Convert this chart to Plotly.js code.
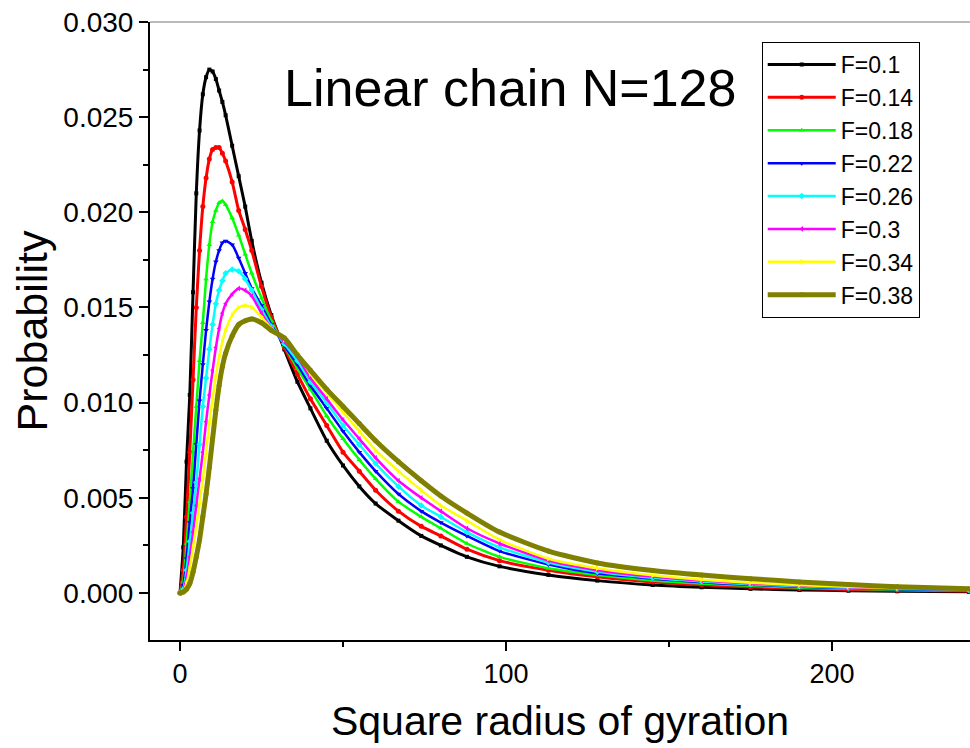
<!DOCTYPE html>
<html>
<head>
<meta charset="utf-8">
<script src="https://cdn.plot.ly/plotly-3.0.1.min.js"></script>
<style>html,body{margin:0;padding:0;background:#fff;}#chart{width:970px;height:748px;}</style>
</head>
<body>
<div id="chart"></div>
<script>
// Square radius of gyration (x values)
const rg2 = [0,1,2,3,4,5,6,7,8,9,10,11,12,13,14,16,18,20,22,25,28,32,36,40,45,50,55,60,67,74,80,88,98,113,128,145,160,175,190,205,220,242];

const pF010 = [0,0.0024,0.0069,0.0104,0.0158,0.0210,0.0243,0.0262,0.0271,0.0275,0.0274,0.0270,0.0264,0.0258,0.0251,0.0235,0.0219,0.0203,0.0185,0.0163,0.0146,0.0128,0.0111,0.0097,0.0080,0.0067,0.0056,0.0047,0.0038,0.0030,0.0025,0.0019,0.0014,0.00095,0.00065,0.00042,0.00030,0.00022,0.00016,0.00012,0.00009,0.00006];
const pF014 = [0,0.0012,0.0040,0.0074,0.0112,0.0150,0.0180,0.0203,0.0218,0.0228,0.0233,0.0234,0.0234,0.0231,0.0227,0.0216,0.0201,0.0191,0.0180,0.0161,0.0145,0.0129,0.0115,0.0102,0.0088,0.0074,0.0064,0.0054,0.0043,0.0035,0.0030,0.0023,0.0017,0.0012,0.00085,0.00058,0.00043,0.00032,0.00024,0.00018,0.00014,0.00010];
const pF018 = [0,0.0006,0.0026,0.0048,0.0074,0.0098,0.0122,0.0142,0.0165,0.0183,0.0195,0.0201,0.0205,0.0206,0.0204,0.0197,0.0188,0.0178,0.0168,0.0155,0.0143,0.0130,0.0118,0.0107,0.0093,0.0081,0.0070,0.0060,0.0048,0.0040,0.0034,0.0026,0.0019,0.0013,0.00095,0.00066,0.00050,0.00038,0.00029,0.00022,0.00017,0.00012];
const pF022 = [0,0.0004,0.0018,0.0037,0.0055,0.0078,0.0101,0.0120,0.0138,0.0153,0.0165,0.0174,0.0180,0.0184,0.0185,0.0183,0.0176,0.0168,0.0160,0.0151,0.0141,0.0130,0.0120,0.0109,0.0097,0.0085,0.0074,0.0064,0.0052,0.0043,0.0037,0.0030,0.0022,0.0015,0.00103,0.00075,0.00056,0.00043,0.00033,0.00026,0.00020,0.00015];
const pF026 = [0,0.0002,0.0012,0.0027,0.0042,0.0058,0.0078,0.0098,0.0113,0.0128,0.0141,0.0152,0.0159,0.0164,0.0168,0.0170,0.0169,0.0165,0.0159,0.0149,0.0140,0.0131,0.0122,0.0111,0.0100,0.0088,0.0078,0.0068,0.0056,0.0046,0.0040,0.0032,0.0024,0.0016,0.00112,0.00080,0.00060,0.00046,0.00036,0.00028,0.00022,0.00016];
const pF030 = [0,0.0001,0.0008,0.0019,0.0032,0.0046,0.0060,0.0074,0.0090,0.0104,0.0117,0.0129,0.0139,0.0147,0.0152,0.0157,0.0160,0.0159,0.0156,0.0147,0.0139,0.0132,0.0124,0.0113,0.0102,0.0091,0.0081,0.0071,0.0059,0.0050,0.0043,0.0034,0.0026,0.0017,0.00120,0.00086,0.00065,0.00050,0.00039,0.00030,0.00024,0.00018];
const pF034 = [0,0.0001,0.0005,0.0013,0.0024,0.0035,0.0047,0.0060,0.0074,0.0089,0.0102,0.0114,0.0124,0.0132,0.0138,0.0146,0.0150,0.0151,0.0150,0.0145,0.0139,0.0133,0.0126,0.0115,0.0105,0.0095,0.0085,0.0075,0.0064,0.0054,0.0046,0.0038,0.0028,0.0018,0.00130,0.00093,0.00070,0.00054,0.00042,0.00033,0.00026,0.00020];
const pF038 = [0,0.00005,0.0002,0.0005,0.0011,0.0019,0.0028,0.0040,0.0052,0.0066,0.0081,0.0096,0.0109,0.0119,0.0126,0.0135,0.0141,0.0143,0.0144,0.0142,0.0138,0.0134,0.0125,0.0117,0.0107,0.0098,0.0089,0.0080,0.0069,0.0059,0.0051,0.0042,0.0032,0.0022,0.00158,0.00118,0.00094,0.00075,0.00058,0.00044,0.00033,0.00022];

const seriesNames = ['F=0.1','F=0.14','F=0.18','F=0.22','F=0.26','F=0.3','F=0.34','F=0.38'];
const seriesValues = [pF010,pF014,pF018,pF022,pF026,pF030,pF034,pF038];
const colors = ['#000000','#ff0000','#00ff00','#0000ff','#00ffff','#ff00ff','#ffff00','#808000'];
const symbols = ['square','circle','triangle-up','triangle-down','diamond','triangle-left','triangle-right','circle'];
const widths = [3,3,2.5,2.5,2.5,2.5,2.5,5];
const msizes = [4,5,5,5,5,5,5,5];

const traces = seriesNames.map((n,i)=>({
  x: rg2, y: seriesValues[i], name: n, type:'scatter', mode:'lines+markers',
  line:{color:colors[i], width:widths[i], shape:'spline', smoothing:0.6},
  marker:{color:colors[i], symbol:symbols[i], size:msizes[i]}
}));

const regular = '"Liberation Sans", Arial, sans-serif';

const layout = {
  width:970, height:748,
  margin:{l:150, r:0, t:22, b:108},
  paper_bgcolor:'#fff', plot_bgcolor:'#fff',
  showlegend:true,
  legend:{x:0.746, y:0.9676, xanchor:'left', yanchor:'top', bordercolor:'#000', borderwidth:1,
    bgcolor:'#fff', font:{family:regular, size:23, color:'#000'}, tracegroupgap:0, itemwidth:68},
  xaxis:{range:[-9.2,242.3], dtick:100, tick0:0, ticks:'outside', ticklen:9, tickwidth:2, tickcolor:'#000',
    showline:true, linecolor:'#000', linewidth:2, showgrid:false, zeroline:false,
    minor:{dtick:50, tick0:0, ticks:'outside', ticklen:5, tickwidth:2, tickcolor:'#000', showgrid:false},
    tickfont:{family:regular, size:27, color:'#000'},
    title:{text:'Square radius of gyration', font:{family:regular, size:41, color:'#000'}, standoff:18}},
  yaxis:{range:[-0.00247,0.0300], dtick:0.005, tick0:0, tickformat:'.3f', ticks:'outside', ticklen:9, tickwidth:2, tickcolor:'#000',
    showline:true, linecolor:'#000', linewidth:2, showgrid:false, zeroline:false,
    minor:{dtick:0.0025, tick0:0, ticks:'outside', ticklen:5, tickwidth:2, tickcolor:'#000', showgrid:false},
    tickfont:{family:regular, size:28, color:'#000'},
    title:{text:'Probability', font:{family:regular, size:43, color:'#000'}, standoff:2}},
  shapes:[{type:'line', xref:'paper', yref:'paper', x0:0, x1:1, y0:1, y1:1, line:{color:'#777', width:1}}],
  annotations:[{text:'Linear chain N=128', xref:'x', yref:'y', x:31.3, y:0.02653, xanchor:'left', yanchor:'middle',
    showarrow:false, font:{family:regular, size:52, color:'#000'}}]
};

Plotly.newPlot('chart', traces, layout, {displayModeBar:false, staticPlot:true});
</script>
</body>
</html>
